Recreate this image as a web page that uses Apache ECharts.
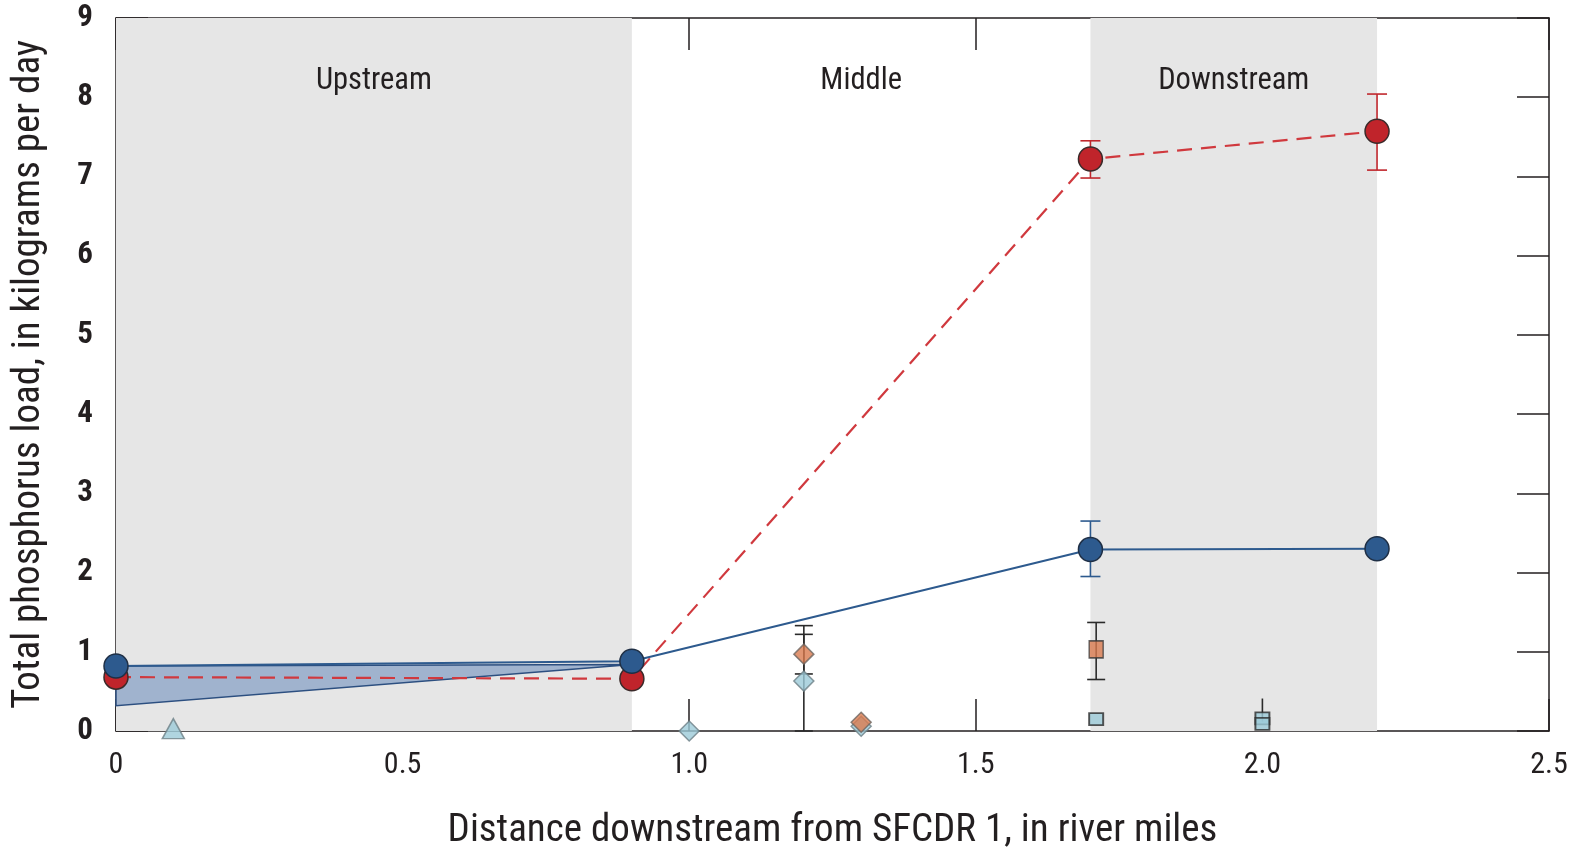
<!DOCTYPE html>
<html>
<head>
<meta charset="utf-8">
<script src="https://cdn.jsdelivr.net/npm/echarts@6/dist/echarts.min.js"></script>
<style>
  html, body { margin: 0; padding: 0; background: #fff; }
  #chart { width: 1580px; height: 848px; }
</style>
</head>
<body>
<div id="chart"></div>
<script>
// River reaches (river miles)
const reaches = [
  { name: 'Upstream', from: 0, to: 0.9, shaded: true },
  { name: 'Middle', from: 0.9, to: 1.7, shaded: false },
  { name: 'Downstream', from: 1.7, to: 2.2, shaded: true }
];

// Main synoptic loads: [river mile, kg/day]
const blueLoads = [[0, 0.82], [0.9, 0.88], [1.7, 2.29], [2.2, 2.30]];
const redLoads = [[0, 0.68], [0.9, 0.66], [1.7, 7.22], [2.2, 7.57]];

// Error ranges: [river mile, low, high]
const blueErr = [[1.7, 1.95, 2.65]];
const redErr = [[1.7, 6.98, 7.45], [2.2, 7.08, 8.04]];

// Range band for the upstream reach
const bandUpper = [[0, 0.82], [0.9, 0.84]];
const bandLower = [[0, 0.32], [0.9, 0.84]];

// Tributary / inflow loads
const triangles = [[0.1, 0.03]];
const lightDiamonds = [[1.0, 0.0], [1.2, 0.63], [1.3, 0.06]];
const orangeDiamonds = [[1.2, 0.97], [1.3, 0.11]];
const orangeSquares = [[1.71, 1.03]];
const lightSquares = [[1.71, 0.15], [2.0, 0.16], [2.0, 0.09]];
const inflowErr = [[1.2, 0.72, 1.33], [1.2, 0.0, 1.22], [1.71, 0.65, 1.37]];
const inflowStem = [[2.0, 0.12, 0.41]];

// Axis ticks
const xTicks = [0, 0.5, 1.0, 1.5, 2.0, 2.5];
const yTicks = [0, 1, 2, 3, 4, 5, 6, 7, 8, 9];

const FONT = '"Roboto Condensed", "Liberation Sans Narrow", "DejaVu Sans Condensed", sans-serif';
const INK = '#231f20';

function errRenderer(color, capHalf) {
  return function (params, api) {
    const x = api.value(0);
    const lo = api.coord([x, api.value(1)]);
    const hi = api.coord([x, api.value(2)]);
    const children = [{
      type: 'line',
      shape: { x1: lo[0], y1: lo[1], x2: hi[0], y2: hi[1] },
      style: { stroke: color, lineWidth: 1.6 }
    }];
    if (capHalf > 0) {
      [lo, hi].forEach(p => children.push({
        type: 'line',
        shape: { x1: p[0] - capHalf, y1: p[1], x2: p[0] + capHalf, y2: p[1] },
        style: { stroke: color, lineWidth: 1.6 }
      }));
    }
    return { type: 'group', children };
  };
}

const chart = echarts.init(document.getElementById('chart'));

const axisLine = { show: true, onZero: false, lineStyle: { color: INK, width: 1.5 } };
const tickStyle = { show: true, inside: true, length: 32, lineStyle: { color: INK, width: 1.5 } };

chart.setOption({
  animation: false,
  backgroundColor: '#fff',
  grid: { left: 116, right: 31, top: 18, bottom: 117, outerBoundsMode: 'none', containLabel: false },
  xAxis: [{
    type: 'value', min: 0, max: 2.5, interval: 0.5,
    axisLine, axisTick: tickStyle, splitLine: { show: false },
    axisLabel: {
      color: INK, fontFamily: FONT, fontSize: 30, margin: 19,
      formatter: v => (v === 0 ? '0' : xTicks.includes(v) ? v.toFixed(1) : '')
    },
    name: 'Distance downstream from SFCDR 1, in river miles',
    nameLocation: 'middle', nameGap: 81,
    nameTextStyle: { color: INK, fontFamily: FONT, fontSize: 39 }
  }, {
    type: 'value', min: 0, max: 2.5, interval: 0.5, position: 'top',
    axisLine, axisTick: tickStyle, axisLabel: { show: false }, splitLine: { show: false }
  }],
  yAxis: [{
    type: 'value', min: 0, max: 9, interval: 1,
    axisLine, axisTick: tickStyle, splitLine: { show: false },
    axisLabel: {
      color: INK, fontFamily: FONT, fontSize: 31, fontWeight: 'bold', margin: 23,
      formatter: v => (yTicks.includes(v) ? String(v) : '')
    },
    name: 'Total phosphorus load, in kilograms per day',
    nameLocation: 'middle', nameGap: 67,
    nameTextStyle: { color: INK, fontFamily: FONT, fontSize: 39 }
  }, {
    type: 'value', min: 0, max: 9, interval: 1, position: 'right',
    axisLine, axisTick: tickStyle, axisLabel: { show: false }, splitLine: { show: false }
  }],
  series: [
    {
      // reach shading and labels
      type: 'line', data: [], silent: true, z: 0,
      markArea: {
        silent: true,
        data: reaches.map(r => [{
          xAxis: r.from,
          yAxis: 9,
          itemStyle: { color: r.shaded ? '#e6e6e6' : 'rgba(0,0,0,0)' },
          label: {
            show: true, position: 'insideTop', distance: 48,
            formatter: r.name, color: INK, fontFamily: FONT, fontSize: 30.5
          }
        }, { xAxis: r.to, yAxis: 0 }])
      }
    },
    {
      // upstream range band
      type: 'custom', z: 2, silent: true,
      data: [[0, 0]],
      renderItem: function (params, api) {
        const pts = bandUpper.map(p => api.coord(p))
          .concat(bandLower.slice().reverse().map(p => api.coord(p)));
        return {
          type: 'polygon',
          shape: { points: pts },
          style: { fill: '#a0b3ce', stroke: '#2c4f80', lineWidth: 1.5 }
        };
      }
    },
    {
      type: 'custom', z: 3, data: inflowErr,
      renderItem: errRenderer('#2a2a2a', 9)
    },
    {
      type: 'custom', z: 3, data: inflowStem,
      renderItem: errRenderer('#2a2a2a', 0)
    },
    {
      type: 'custom', z: 3, data: blueErr,
      renderItem: errRenderer('#2d5a8e', 10)
    },
    {
      type: 'custom', z: 3, data: redErr,
      renderItem: errRenderer('#c0272d', 10)
    },
    {
      type: 'scatter', z: 4, data: triangles, symbol: 'triangle', symbolSize: [22, 20],
      itemStyle: { color: '#9ccbd8', borderColor: '#6d7f86', borderWidth: 1.5 }
    },
    {
      type: 'scatter', z: 4, data: lightDiamonds, symbol: 'diamond', symbolSize: [20, 20],
      itemStyle: { color: '#9ccbd8', borderColor: '#6d7f86', borderWidth: 1.5 }
    },
    {
      type: 'scatter', z: 5, data: orangeDiamonds, symbol: 'diamond', symbolSize: [20, 20],
      itemStyle: { color: '#d97a4f', borderColor: '#6d6560', borderWidth: 1.5 }
    },
    {
      type: 'scatter', z: 5, data: orangeSquares, symbol: 'rect', symbolSize: [14, 17],
      itemStyle: { color: '#d97a4f', borderColor: '#3a3a3a', borderWidth: 1.5 }
    },
    {
      type: 'scatter', z: 5, data: lightSquares, symbol: 'rect', symbolSize: [14, 12],
      itemStyle: { color: '#9ccbd8', borderColor: '#2a2a2a', borderWidth: 1.8 }
    },
    {
      type: 'line', z: 6, data: redLoads, symbol: 'circle', symbolSize: 24,
      lineStyle: { color: '#d0393e', width: 2.2, type: [15, 9] },
      itemStyle: { color: '#c0242b', borderColor: '#3a2a2a', borderWidth: 1.5 }
    },
    {
      type: 'line', z: 7, data: blueLoads, symbol: 'circle', symbolSize: 24,
      lineStyle: { color: '#2d5a8e', width: 2 },
      itemStyle: { color: '#2d5a8e', borderColor: '#1f2f45', borderWidth: 1.5 }
    }
  ]
});
</script>
</body>
</html>
